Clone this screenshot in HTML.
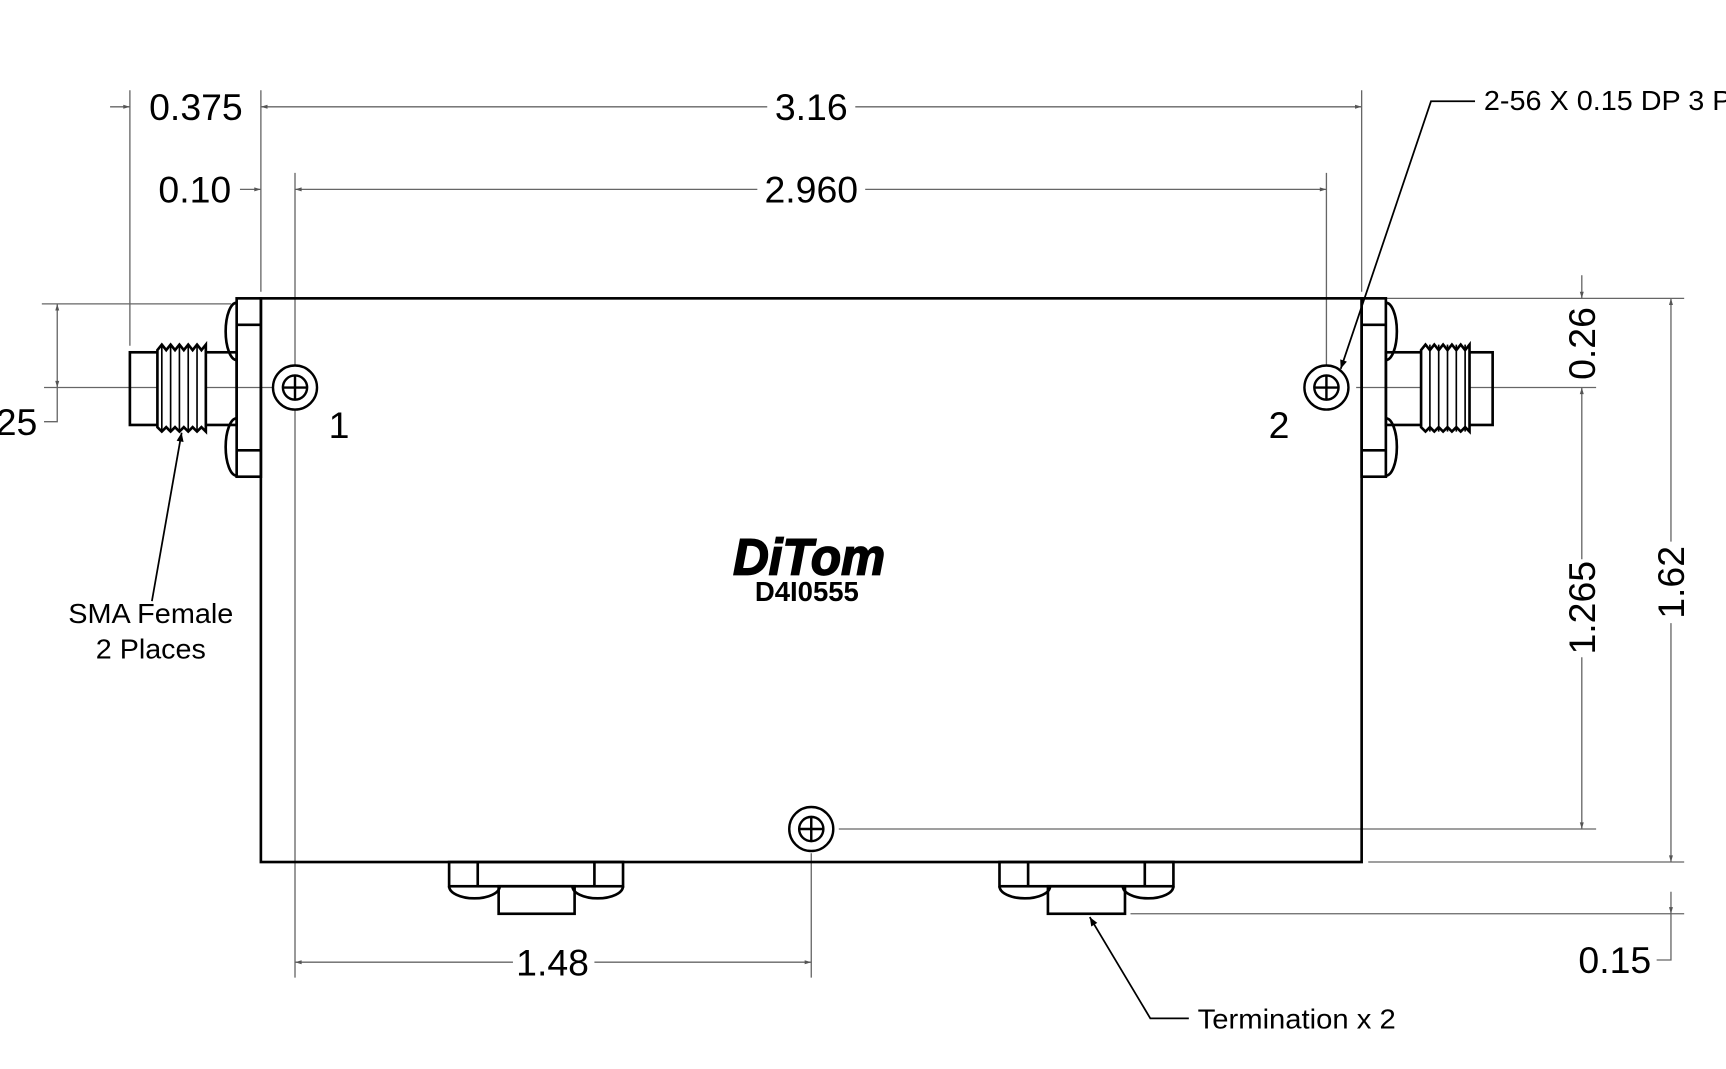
<!DOCTYPE html>
<html><head><meta charset="utf-8"><style>html,body{margin:0;padding:0;background:#fff}svg{display:block}</style></head><body>
<svg width="1726" height="1069" viewBox="0 0 1568 971" preserveAspectRatio="none" xmlns="http://www.w3.org/2000/svg" font-family="Liberation Sans, sans-serif">
<defs>
<marker id="a" viewBox="0 0 10 10" refX="10" refY="5" markerWidth="10" markerHeight="6" orient="auto-start-reverse" markerUnits="userSpaceOnUse"><path d="M0,2 L10,5 L0,8z" fill="#555"/></marker>
<marker id="b" viewBox="0 0 10 10" refX="10" refY="5" markerWidth="12" markerHeight="8" orient="auto-start-reverse" markerUnits="userSpaceOnUse"><path d="M0,1 L10,5 L0,9z" fill="#000"/></marker>
</defs>
<g stroke="#666" stroke-width="1.2" fill="none">
<line x1="237" y1="82" x2="237" y2="265"/><line x1="1237" y1="82" x2="1237" y2="265"/>
<line x1="118" y1="82" x2="118" y2="314"/>
<line x1="268" y1="157" x2="268" y2="888"/><line x1="1205" y1="157" x2="1205" y2="333"/>
<line x1="237" y1="97" x2="697" y2="97" marker-start="url(#a)"/><line x1="777" y1="97" x2="1237" y2="97" marker-end="url(#a)"/>
<line x1="100" y1="97" x2="118" y2="97" marker-end="url(#a)"/>
<line x1="268" y1="172" x2="688" y2="172" marker-start="url(#a)"/><line x1="786" y1="172" x2="1205" y2="172" marker-end="url(#a)"/>
<line x1="218" y1="172" x2="237" y2="172" marker-end="url(#a)"/>
<line x1="1240" y1="271" x2="1530" y2="271"/><line x1="1232" y1="352" x2="1450" y2="352"/>
<line x1="762" y1="753" x2="1450" y2="753"/>
<line x1="1243" y1="783" x2="1530" y2="783"/><line x1="1027" y1="830" x2="1530" y2="830"/>
<line x1="1437" y1="250" x2="1437" y2="271" marker-end="url(#a)"/>
<line x1="1437" y1="352" x2="1437" y2="508" marker-start="url(#a)"/><line x1="1437" y1="597" x2="1437" y2="753" marker-end="url(#a)"/>
<line x1="1518" y1="271" x2="1518" y2="492" marker-start="url(#a)"/><line x1="1518" y1="566" x2="1518" y2="783" marker-end="url(#a)"/>
<line x1="1518" y1="810" x2="1518" y2="830" marker-end="url(#a)"/>
<polyline points="1518,830 1518,872 1505,872"/>
<line x1="38" y1="276" x2="210" y2="276"/><line x1="40" y1="352" x2="250" y2="352"/>
<line x1="52" y1="276" x2="52" y2="352" marker-start="url(#a)" marker-end="url(#a)"/>
<polyline points="52,352 52,383 40,383"/>
<line x1="737" y1="775" x2="737" y2="888"/>
<line x1="268" y1="874" x2="466" y2="874" marker-start="url(#a)"/><line x1="540" y1="874" x2="737" y2="874" marker-end="url(#a)"/>
</g>
<g stroke="#000" stroke-width="2.4" fill="none">
<rect x="237" y="271" width="1000" height="512"/>
<rect x="215" y="271" width="22" height="162"/>
<line x1="215" y1="295" x2="237" y2="295"/><line x1="215" y1="409" x2="237" y2="409"/>
<path d="M215,275 A10,26 0 0 0 215,327"/><path d="M215,380 A10,26 0 0 0 215,432"/>
<rect x="118" y="320" width="97" height="66"/>
<path d="M143,318 L147,313 L151,318 L155,313 L159,318 L163,313 L167,318 L171,313 L175,318 L179,313 L183,318 L187,313 L187,392 L183,388 L179,392 L175,388 L171,392 L167,388 L163,392 L159,388 L155,392 L151,388 L147,392 L143,388 Z" fill="#fff"/>
<g stroke-width="1.5"><line x1="147" y1="313" x2="147" y2="392"/><line x1="155" y1="313" x2="155" y2="392"/><line x1="163" y1="313" x2="163" y2="392"/><line x1="171" y1="313" x2="171" y2="392"/><line x1="179" y1="313" x2="179" y2="392"/></g>
<rect x="1237" y="271" width="22" height="162"/>
<line x1="1237" y1="295" x2="1259" y2="295"/><line x1="1237" y1="409" x2="1259" y2="409"/>
<path d="M1259,275 A10,26 0 0 1 1259,327"/><path d="M1259,380 A10,26 0 0 1 1259,432"/>
<rect x="1259" y="320" width="97" height="66"/>
<path d="M1291,318 L1295,313 L1299,318 L1303,313 L1307,318 L1311,313 L1315,318 L1319,313 L1323,318 L1327,313 L1331,318 L1335,313 L1335,392 L1331,388 L1327,392 L1323,388 L1319,392 L1315,388 L1311,392 L1307,388 L1303,392 L1299,388 L1295,392 L1291,388 Z" fill="#fff"/>
<g stroke-width="1.5"><line x1="1299" y1="313" x2="1299" y2="392"/><line x1="1307" y1="313" x2="1307" y2="392"/><line x1="1315" y1="313" x2="1315" y2="392"/><line x1="1323" y1="313" x2="1323" y2="392"/><line x1="1331" y1="313" x2="1331" y2="392"/></g>
<rect x="408" y="783" width="158" height="22"/><line x1="434" y1="783" x2="434" y2="805"/><line x1="540" y1="783" x2="540" y2="805"/>
<path d="M408,805 A23,11 0 0 0 454,805"/><path d="M520,805 A23,11 0 0 0 566,805"/>
<rect x="453" y="805" width="69" height="25"/>
<rect x="908" y="783" width="158" height="22"/><line x1="934" y1="783" x2="934" y2="805"/><line x1="1040" y1="783" x2="1040" y2="805"/>
<path d="M908,805 A23,11 0 0 0 954,805"/><path d="M1020,805 A23,11 0 0 0 1066,805"/>
<rect x="952" y="805" width="70" height="25"/>
<g stroke-width="2.2">
<circle cx="268" cy="352" r="20" fill="#fff"/><circle cx="268" cy="352" r="11"/><path d="M257,352h22M268,341v22"/>
<circle cx="1205" cy="352" r="20" fill="#fff"/><circle cx="1205" cy="352" r="11"/><path d="M1194,352h22M1205,341v22"/>
<circle cx="737" cy="753" r="20" fill="#fff"/><circle cx="737" cy="753" r="11"/><path d="M726,753h22M737,742v22"/>
</g>
</g>
<g stroke="#000" stroke-width="1.6" fill="none">
<polyline points="1340,92 1300,92 1218,335" marker-end="url(#b)"/>
<line x1="138" y1="546" x2="165" y2="393" marker-end="url(#b)"/>
<polyline points="1080,925 1045,925 990,833" marker-end="url(#b)"/>
</g>
<g font-size="34" fill="#000" text-anchor="middle">
<text x="178" y="109">0.375</text>
<text x="737" y="109">3.16</text>
<text x="177" y="184">0.10</text>
<text x="737" y="184">2.960</text>
<text x="502" y="886">1.48</text>
<text x="1467" y="884">0.15</text>
<text x="15" y="395">25</text>
<text x="308" y="398">1</text>
<text x="1162" y="398">2</text>
<text transform="translate(1449,312) rotate(-90)">0.26</text>
<text transform="translate(1449,552) rotate(-90)">1.265</text>
<text transform="translate(1530,529) rotate(-90)">1.62</text>
</g>
<g font-size="25" fill="#000">
<text x="1348" y="100" textLength="225" lengthAdjust="spacingAndGlyphs">2-56 X 0.15 DP 3 P</text>
<text x="62" y="566" textLength="150" lengthAdjust="spacingAndGlyphs">SMA Female</text>
<text x="87" y="598" textLength="100" lengthAdjust="spacingAndGlyphs">2 Places</text>
<text x="1088" y="934" textLength="180" lengthAdjust="spacingAndGlyphs">Termination x 2</text>
</g>
<text x="666" y="522" font-size="46" font-weight="bold" font-style="italic" textLength="138" lengthAdjust="spacingAndGlyphs" stroke="#000" stroke-width="1.5">DiTom</text>
<text x="733" y="546" font-size="25" font-weight="bold" text-anchor="middle">D4I0555</text>
</svg>
</body></html>
